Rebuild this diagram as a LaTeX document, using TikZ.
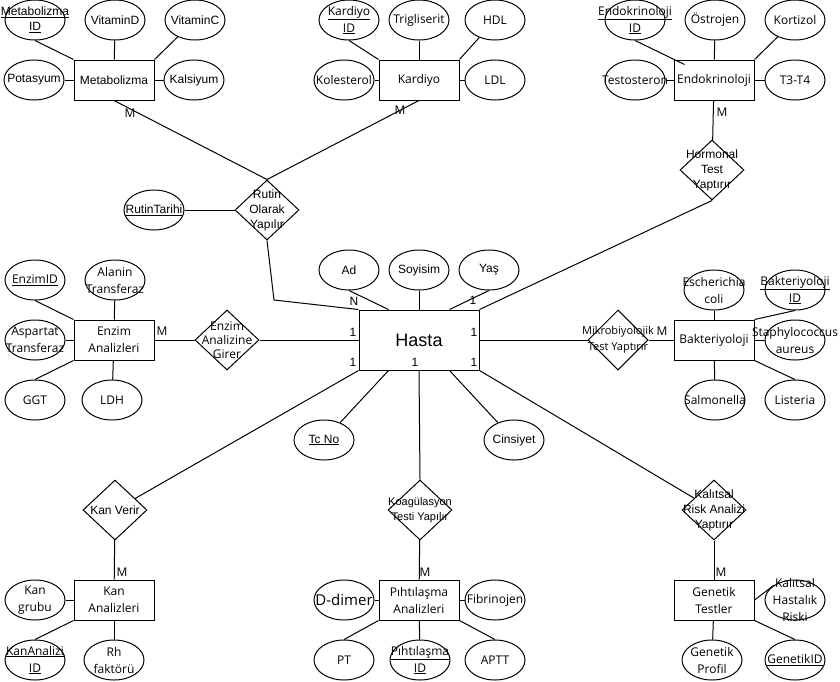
\documentclass[tikz,border=0pt]{standalone}
\usepackage{fontspec}
\setmainfont{Liberation Sans}
\newfontfamily\segoe{Open Sans}
\usetikzlibrary{shapes.geometric}

\begin{document}
\begin{tikzpicture}[x=1pt,y=-1pt,line width=1pt,
  af/.style={font=\fontsize{12}{15}\selectfont, align=center},
  sf/.style={font=\segoe\fontsize{12}{17}\selectfont, align=center},
  ent/.style={draw, minimum width=80pt, minimum height=40pt, inner sep=0pt},
  attr/.style={ellipse, draw, minimum width=60pt, minimum height=40pt, inner sep=0pt},
  rel/.style={diamond, draw, minimum width=64pt, minimum height=60pt, inner sep=0pt},
  card/.style={af, inner sep=0pt},
  mcard/.style={sf, inner sep=0pt}]
\useasboundingbox (0,0) rectangle (840,681);

\node[ent, label={[af]center:Metabolizma}] (metab) at (114,80) {};
\node[attr, label={[af]center:{\underline{Metabolizma}\\\underline{ID}}}] (metid) at (35,20) {};
\node[attr, label={[af]center:VitaminD}] (vitd) at (115,20) {};
\node[attr, label={[af]center:VitaminC}] (vitc) at (195,20) {};
\node[attr, label={[af]center:Potasyum}] (pot) at (34,80) {};
\node[attr, label={[af]center:Kalsiyum}] (kals) at (194,80) {};
\draw (metid.south) -- (metab.north west);
\draw (vitd) -- (metab);
\draw (vitc) -- (metab.north east);
\draw (pot) -- (metab);
\draw (kals) -- (metab);

\node[ent, label={[sf]center:Kardiyo}] (kard) at (419,80) {};
\node[attr, label={[sf]center:{\underline{Kardiyo}\\\underline{ID}}}] (kid) at (349,20) {};
\node[attr, label={[sf]center:Trigliserit}] (trig) at (419,20) {};
\node[attr, label={[sf]center:HDL}] (hdl) at (495,20) {};
\node[attr, label={[sf]center:Kolesterol}] (kol) at (344,80) {};
\node[attr, label={[sf]center:LDL}] (ldl) at (495,80) {};
\draw (kid.south) -- (kard.north west);
\draw (trig) -- (kard);
\draw (hdl) -- (kard.north east);
\draw (kol) -- (kard);
\draw (ldl) -- (kard);

\node[ent, label={[sf]center:Endokrinoloji}] (endo) at (714,80) {};
\node[attr, label={[sf]center:{\underline{Endokrinoloji}\\\underline{ID}}}] (eid) at (635,20) {};
\node[attr, label={[sf]center:Östrojen}] (ostr) at (715,20) {};
\node[attr, label={[sf]center:Kortizol}] (kort) at (795,20) {};
\node[attr, label={[sf]center:Testosteron}] (test) at (635,80) {};
\node[attr, label={[sf]center:T3-T4}] (t34) at (795,80) {};
\draw (eid.south) -- ([shift={(11,5)}]endo.north west);
\draw (ostr) -- (endo);
\draw (kort) -- (endo.north east);
\draw (test) -- (endo);
\draw (t34) -- (endo);

\node[rel, label={[af]center:{Rutin\\Olarak\\Yapılır}}] (rutin) at (267,210) {};
\node[attr, label={[af]center:\underline{RutinTarihi}}] (rtar) at (154,210) {};
\node[rel, label={[af]center:{Hormonal\\Test\\Yaptırır}}] (horm) at (712,170) {};
\coordinate (rbend) at (274,300);
\draw (metab.south) -- (rutin.north);
\draw (kard.south) -- (rutin.north);
\draw (rtar) -- (rutin);
\draw (endo) -- (horm);
\node[mcard] (m1) at (130,113) {M};
\node[mcard] (m2) at (400,110) {M};
\node[mcard] (m3) at (722,112) {M};

\node[draw, minimum width=120pt, minimum height=60pt, font=\fontsize{18}{22}\selectfont] (hasta) at (419,340) {Hasta};
\node[attr, label={[af]center:Ad}] (ad) at (349,270) {};
\node[attr, label={[af]center:Soyisim}] (soy) at (419,270) {};
\node[attr, label={[af]center:Yaş}] (yas) at (489,270) {};
\node[attr, label={[af]center:\underline{Tc No}}] (tc) at (324,440) {};
\node[attr, label={[af]center:Cinsiyet}] (cins) at (514,440) {};
\draw (rutin.south) -- (rbend) -- (hasta.north west);
\draw (horm.south) -- (hasta.north east);
\draw (ad.south) -- ([xshift=30pt]hasta.north west);
\draw (soy) -- (hasta);
\draw (yas.south) -- ([xshift=-30pt]hasta.north east);
\draw ([xshift=30pt]hasta.south west) -- (tc);
\draw ([xshift=-30pt]hasta.south east) -- (cins);
\node[card] (n1) at (354,301) {N};
\node[card] (c1) at (473,300) {1};
\node[card] (c2) at (353,332) {1};
\node[card] (c3) at (474,332) {1};
\node[card] (c4) at (353,362) {1};
\node[card] (c5) at (415,362) {1};
\node[card] (c6) at (474,362) {1};

\node[ent, label={[sf]center:{Enzim\\Analizleri}}] (enz) at (114,340) {};
\node[attr, label={[sf]center:\underline{EnzimID}}] (enzid) at (35,280) {};
\node[attr, label={[sf]center:{Alanin\\Transferaz}}] (alan) at (115,280) {};
\node[attr, label={[sf]center:{Aspartat\\Transferaz}}] (asp) at (35,340) {};
\node[attr, label={[sf]center:GGT}] (ggt) at (35,400) {};
\node[attr, label={[sf]center:LDH}] (ldh) at (112,400) {};
\node[rel, label={[sf, font=\segoe\fontsize{12}{14}\selectfont]center:{Enzim\\Analizine\\Girer}}] (enzr) at (227,340) {};
\draw (enzid.south) -- (enz.north west);
\draw (alan) -- (enz);
\draw (asp) -- (enz);
\draw (ggt.north) -- (enz.south west);
\draw (ldh) -- (enz);
\draw (enz) -- (enzr);
\draw (enzr) -- (hasta);
\node[mcard] (m4) at (162,331) {M};

\node[ent, label={[sf]center:Bakteriyoloji}] (bakt) at (714,340) {};
\node[attr, label={[sf]center:{Escherichia\\coli}}] (esch) at (714,290) {};
\node[attr, label={[sf]center:{\underline{Bakteriyoloji}\\\underline{ID}}}] (bid) at (795,290) {};
\node[attr, label={[sf]center:{Staphylococcus\\aureus}}] (staph) at (795,340) {};
\node[attr, label={[sf]center:Salmonella}] (salm) at (715,400) {};
\node[attr, label={[sf]center:Listeria}] (list) at (795,400) {};
\node[rel, minimum width=60pt, label={[sf, font=\segoe\fontsize{11}{16}\selectfont]center:{Mikrobiyolojik\\Test Yaptırır}}] (mikr) at (618,340) {};
\draw (hasta) -- (mikr);
\draw (mikr) -- (bakt);
\draw (esch) -- (bakt);
\draw (bid.south) -- (bakt.north east);
\draw (staph) -- (bakt);
\draw (salm) -- (bakt);
\draw (list.north) -- (bakt.south east);
\node[mcard] (m5) at (662,331) {M};

\node[rel, label={[af]center:{Kan Verir}}] (kanv) at (115,510) {};
\node[ent, label={[sf]center:{Kan\\Analizleri}}] (kan) at (114,600) {};
\node[attr, label={[sf]center:{Kan\\grubu}}] (kgrup) at (35,600) {};
\node[attr, label={[sf]center:{\underline{KanAnalizi}\\\underline{ID}}}] (kaid) at (35,660) {};
\node[attr, label={[sf]center:{Rh\\faktörü}}] (rh) at (114,660) {};
\draw (hasta.south west) -- (kanv);
\draw (kanv) -- (kan);
\draw (kgrup) -- (kan);
\draw (kaid.north) -- (kan.south west);
\draw (rh) -- (kan);
\node[mcard] (m6) at (122,572) {M};

\node[rel, label={[af, font=\fontsize{11}{15}\selectfont]center:{Koagülasyon\\Testi Yapılır}}] (koag) at (420,510) {};
\node[ent, label={[sf]center:{Pıhtılaşma\\Analizleri}}] (piht) at (419,600) {};
\node[attr, label={[sf]center:{\fontsize{15}{17}\selectfont D-dimer}}] (ddim) at (344,600) {};
\node[attr, label={[sf]center:Fibrinojen}] (fib) at (495,600) {};
\node[attr, label={[sf]center:PT}] (pt) at (344,660) {};
\node[attr, label={[sf]center:{\underline{Pıhtılaşma}\\\underline{ID}}}] (pid) at (420,660) {};
\node[attr, label={[sf]center:APTT}] (aptt) at (495,660) {};
\draw (hasta.south) -- (koag.north);
\draw (koag) -- (piht);
\draw (ddim) -- (piht);
\draw (fib) -- (piht);
\draw (pt.north) -- (piht.south west);
\draw (pid) -- (piht);
\draw (aptt.north) -- (piht.south east);
\node[mcard] (m7) at (425,572) {M};

\node[rel, label={[af]center:{Kalıtsal\\Risk Analizi\\Yaptırır}}] (kalr) at (714,510) {};
\node[ent, label={[sf]center:{Genetik\\Testler}}] (gen) at (714,600) {};
\node[attr, label={[sf]center:{Kalıtsal\\Hastalık\\Riski}}] (krisk) at (795,600) {};
\node[attr, label={[sf]center:{Genetik\\Profil}}] (gprof) at (712,660) {};
\node[attr, label={[sf]center:\underline{GenetikID}}] (gid) at (795,660) {};
\draw (hasta.south east) -- (kalr);
\draw (kalr) -- (gen);
\draw (gen.east) -- (krisk.145);
\draw (gprof) -- (gen);
\draw (gid.north) -- (gen.south east);
\node[mcard] (m8) at (721,572) {M};
\end{tikzpicture}
\end{document}
